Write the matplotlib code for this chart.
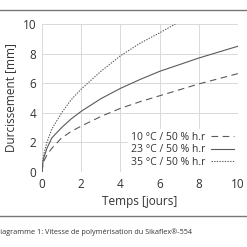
import matplotlib
matplotlib.use("Agg")
import matplotlib.pyplot as plt
import numpy as np

plt.rcParams['font.family'] = ['Open Sans', 'DejaVu Sans']

days = [0, 0.05, 0.1, 0.25, 0.5, 1, 1.5, 2, 3, 4, 5, 6, 7, 8, 9, 10]
t10 = [0, 0.5, 0.75, 1.15, 1.6, 2.3, 2.75, 3.1, 3.75, 4.3, 4.75, 5.15, 5.55, 5.95, 6.3, 6.65]
t23 = [0, 0.7, 1.0, 1.6, 2.3, 3.0, 3.6, 4.1, 4.95, 5.65, 6.25, 6.8, 7.25, 7.7, 8.1, 8.5]
days35 = [0, 0.05, 0.1, 0.25, 0.5, 1, 1.5, 2, 3, 4, 5, 6, 6.8]
t35 = [0, 0.8, 1.25, 2.0, 2.9, 4.0, 4.9, 5.6, 6.8, 7.85, 8.7, 9.4, 10.0]

labels = ['10 °C / 50 % h.r', '23 °C / 50 % h.r', '35 °C / 50 % h.r']
xticks = [0, 2, 4, 6, 8, 10]
yticks = [0, 2, 4, 6, 8, 10]

fig = plt.figure(figsize=(2.47, 2.47), dpi=100)
ax = fig.add_axes([42/247, 1-172/247, (238-42)/247, (172-24)/247])
col = '#5a5a5a'
ax.plot(days, t10, color=col, lw=0.8, ls=(0, (6, 4)), label=labels[0])
ax.plot(days, t23, color=col, lw=0.8, ls='-', label=labels[1])
ax.plot(days35, t35, color=col, lw=0.8, ls=(0, (1.2, 1.2)), label=labels[2])
ax.set_xlim(0, 10)
ax.set_ylim(0, 10)
ax.set_xticks(xticks)
ax.set_yticks(yticks)
ax.grid(True, color='#d9d9d9', lw=0.7)
ax.set_axisbelow(True)
for s in ax.spines.values():
    s.set_visible(False)
ax.tick_params(length=0, labelsize=8.5, colors='#333333', pad=4)
ax.set_xlabel('Temps [jours]', fontsize=8.5, color='#333333', labelpad=3)
ax.set_ylabel('Durcissement [mm]', fontsize=8.5, color='#333333', labelpad=4)
leg = ax.legend(loc='lower right', markerfirst=False, frameon=True, fontsize=7.5,
                handlelength=2.2, labelspacing=0.15, borderpad=0.3, handletextpad=0.5,
                borderaxespad=0.1)
leg.get_frame().set_edgecolor('white')
leg.get_frame().set_facecolor('white')
leg.get_frame().set_alpha(1)
leg.get_frame().set_boxstyle('square', pad=0)
for t in leg.get_texts():
    t.set_color('#333333')

fig.add_artist(plt.Line2D([0, 1], [1-10/247, 1-10/247], color='#777777', lw=1))
fig.add_artist(plt.Line2D([0, 1], [1-216/247, 1-216/247], color='#777777', lw=1))
fig.text(-5/247, 1-232/247, 'Diagramme 1: Vitesse de polymérisation du Sikaflex®-554',
         fontsize=5.2, color='#333333', va='center', ha='left')

fig.savefig('out.png', dpi=100, facecolor='white')
